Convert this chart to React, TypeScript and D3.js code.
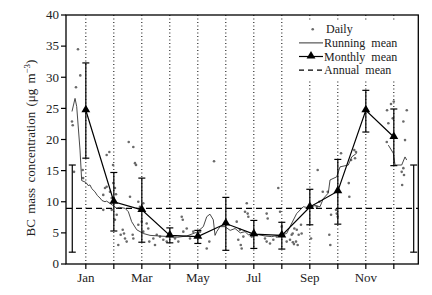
import React from "react";
import * as d3 from "d3";

const width = 432, height = 295
const margin = { left: 66, top: 15, right: 418.3, bottom: 264 }

// x positions are day of year
const monthLabels = ["Jan", "", "Mar", "", "May", "", "Jul", "", "Sep", "", "Nov", ""]
const monthMean = [24.7, 10.0, 8.7, 4.6, 4.4, 6.5, 4.8, 4.6, 9.15, 11.7, 24.7, 20.4]
const monthLow = [17.0, 5.3, 3.5, 3.4, 3.3, 2.2, 2.5, 2.4, 6.3, 6.4, 21.2, 15.8]
const monthHigh = [32.3, 14.7, 13.8, 5.8, 5.4, 10.7, 7.0, 6.7, 12.0, 16.8, 27.9, 24.9]

const annualMean = 8.94
const annualLow = 1.9
const annualHigh = 15.9
const annualBarDays = [0.8, 371]

const dailyDays = [7, 9.5, 4.8, 0.5, 1.3, 2.7, 12.1, 12.5, 38.1, 41, 36.3, 38.1, 41.7, 34.4, 43.6, 45.3, 45, 47.1, 48.2,
  34.4, 43.6, 49, 47.1, 50.7, 53.3, 55.5, 56.9, 58, 59.8, 62, 63.4, 67, 68.8, 69.9, 67, 66.3, 72.4, 74.2, 77.8, 76.1,
  72.4, 81.5, 83.2, 77.8, 84.3, 88.7, 90.5, 92.4, 95.9, 99.5, 103.2, 106.8, 112.2, 115.8, 119.5, 120.6, 121.2, 124.9,
  128.5, 132, 139.3, 146.6, 149.4, 154.5, 179.1, 190, 188.1, 191, 191.7, 182.7, 180.8, 183.5, 184.5, 186.3, 195.4,
  211.6, 212.7, 209.8, 211.6, 215.2, 218.8, 222.5, 224.2, 226.1, 227.9, 233.3, 236.9, 238.7, 241.6, 239.8, 243.4,
  246.3, 245.2, 248.8, 249.5, 259.7, 266.9, 268.7, 272.4, 277.8, 279.5, 280.6, 281.4, 286.8, 287.6, 288.6, 292.2,
  300.6, 301.2, 303.1, 306.6, 308.5, 307.4, 265.9, 244.2, 241.2, 240, 342.1, 346.4, 349.4, 348.3, 343.5, 359.8, 363.5,
  341.8, 361.6, 359.8, 358, 360.5, 358.5]
const dailyValues = [34.5, 30.3, 28.4, 22.9, 22.3, 14.8, 15.1, 13.8, 17.5, 18.0, 12.2, 12.4, 11.6, 11.1, 10.6, 13.0, 15.9, 12.2, 11.2,
  8.7, 8.7, 7.9, 7.1, 3.05, 4.7, 5.5, 4.9, 4.1, 3.6, 19.6, 10.8, 18.8, 16.2, 15.9, 4.1, 4.7, 10.0, 9.2, 9.75, 6.8,
  6.3, 6.5, 5.7, 5.2, 3.6, 4.1, 3.05, 4.7, 4.4, 3.9, 3.6, 4.7, 4.1, 3.6, 7.6, 7.1, 5.2, 5.7,
  4.1, 5.2, 5.2, 2.5, 3.6, 16.5, 6.8, 9.75, 8.4, 8.1, 7.6, 5.5, 3.9, 3.05, 2.5, 4.4, 4.4,
  8.1, 7.3, 4.1, 3.6, 3.3, 3.9, 4.4, 12.2, 8.4, 6.0, 3.6, 3.9, 4.7, 5.7, 4.9, 3.6,
  4.7, 3.05, 6.3, 4.9, 4.1, 15.1, 10.0, 11.6, 11.6, 4.7, 3.05, 7.9, 8.7, 8.1, 7.6, 17.8,
  13.0, 10.8, 16.7, 18.3, 18.0, 17.0, 9.2, 5.5, 3.2, 3.5, 24.7, 25.7, 26.1, 23.4, 22.6, 22.9, 24.7,
  19.6, 19.9, 15.4, 14.8, 14.3, 12.7]

// NaN marks a gap in the running mean
const runDays = [0.5, 3.8, 5.6, 9.2, 11, 15.7, 18, 20, 22, 25.4, 28, 30.9, 33, 36.3, 38, 41.7, 44, 49, 52, 58, 61.6, 65.2, 70.7,
  77.8, 85.1, 95, 106.8, 115, 124.9, 135.7, 142.9, 146.6, 150.1, 153.7, 155.6, 157.4, 161, 166.4, 172, 177.3, 183, 188.1,
  191.7, 197, 202.5, 210, 217, 227.9, 233.3, 236.9, 244.1, 251.3, 258, 264, 269.4, 273, 278.4, 280.3, 287.5, 291.1, 300.1,
  303.8, 309.2, NaN, 343.5, 348.9, 350.8, 358, 361.6, 363.4]
const runValues = [24.5, 26.6, 25.3, 18.3, 13.4, 13.1, 12.6, 12.7, 12.1, 11.6, 11.0, 10.6, 10.2, 10.0, 10.1, 9.75, 9.5, 8.95, 9.1, 8.95, 8.4, 6.8, 5.5,
  4.9, 4.6, 4.5, 4.4, 4.3, 4.5, 5.1, 6.0, 7.6, 8.0, 7.1, 4.6, 5.2, 6.0, 6.0, 5.4, 5.7, 5.0, 5.2,
  4.7, 4.9, 4.7, 4.5, 4.4, 4.7, 4.9, 6.0, 8.1, 9.2, 9.0, 9.4, 9.2, 10.5, 11.4, 13.5, 14.0, 15.6, 15.9,
  17.2, 17.8, NaN, 19.1, 17.8, 15.9, 15.9, 17.2, 16.7]

const yTicks = [0, 5, 10, 15, 20, 25, 30, 35, 40]
const legendLabels = ["Daily", "Running mean", "Monthly mean", "Annual mean"]
const font = "'Liberation Serif', 'Times New Roman', serif"

const App = () => {
  const x = d3.scaleLinear().domain([-6, 376]).range([margin.left, margin.right])
  const y = d3.scaleLinear().domain([0, 40]).range([margin.bottom, margin.top])
  const monthDay = (i: number) => 15.5 + i * 30.36

  const runLine = d3.line<number>()
    .defined(i => !isNaN(runValues[i]))
    .x(i => x(runDays[i]))
    .y(i => y(runValues[i]))

  const meanLine = d3.line<number>()
    .x(i => x(monthDay(i)))
    .y(i => y(monthMean[i]))

  const tri = d3.symbol().type(d3.symbolTriangle).size(34)

  const errorBar = (cx: number, lo: number, hi: number, key: string) => (
    <g key={key} stroke="#000" strokeWidth={1.2}>
      <line x1={cx} x2={cx} y1={y(lo)} y2={y(hi)} />
      <line x1={cx - 3.5} x2={cx + 3.5} y1={y(lo)} y2={y(lo)} />
      <line x1={cx - 3.5} x2={cx + 3.5} y1={y(hi)} y2={y(hi)} />
    </g>
  )

  // legend rows
  const ly = (i: number) => 29.3 + i * 13.6

  return <div style={{ position: "absolute", left: 0, top: 0 }}>
    <svg width={width} height={height} style={{ display: "block", background: "#fff" }}>
      {/* month guides */}
      {monthMean.map((_, i) => (
        <line key={"g" + i} x1={x(monthDay(i))} x2={x(monthDay(i))} y1={margin.top} y2={margin.bottom}
          stroke="#000" strokeWidth={1} strokeDasharray="1,2.5" />
      ))}

      {/* legend background hides the guides */}
      <rect x={296} y={21} width={110} height={59} fill="#fff" />

      {/* daily */}
      {dailyDays.map((d, i) => (
        <circle key={"d" + i} cx={x(d)} cy={y(dailyValues[i])} r={1.3} fill="#6a6a6a" />
      ))}

      {/* annual mean */}
      <line x1={margin.left} x2={margin.right} y1={y(annualMean)} y2={y(annualMean)}
        stroke="#000" strokeWidth={1.2} strokeDasharray="6,4" />
      {annualBarDays.map((d, i) => errorBar(x(d), annualLow, annualHigh, "a" + i))}

      {/* running mean */}
      <path d={runLine(d3.range(runDays.length)) || ""} fill="none" stroke="#333" strokeWidth={0.9} />

      {/* monthly mean */}
      {monthMean.map((_, i) => errorBar(x(monthDay(i)), monthLow[i], monthHigh[i], "m" + i))}
      <path d={meanLine(d3.range(monthMean.length)) || ""} fill="none" stroke="#000" strokeWidth={1.2} />
      {monthMean.map((v, i) => (
        <path key={"t" + i} d={tri() || ""} transform={`translate(${x(monthDay(i))},${y(v) - 0.5})`} fill="#000" />
      ))}

      {/* frame */}
      <rect x={margin.left} y={margin.top} width={margin.right - margin.left} height={margin.bottom - margin.top}
        fill="none" stroke="#000" strokeWidth={1.3} />

      {/* y axis */}
      {yTicks.map(t => (
        <g key={"y" + t}>
          <line x1={margin.left - 5} x2={margin.left} y1={y(t)} y2={y(t)} stroke="#000" strokeWidth={1.2} />
          <text x={margin.left - 7} y={y(t) + 4.3} textAnchor="end" fontFamily={font} fontSize={13} fill="#222">{t}</text>
        </g>
      ))}
      <text transform={`translate(35,${148}) rotate(-90)`} textAnchor="middle"
        fontFamily={font} fontSize={13} fill="#222" wordSpacing={2}>
        BC mass concentration (μg m<tspan dy={-5} fontSize={9}>−3</tspan><tspan dy={5}>)</tspan>
      </text>

      {/* x axis */}
      {monthLabels.map((m, i) => (
        <g key={"x" + i}>
          <line x1={x(monthDay(i))} x2={x(monthDay(i))} y1={margin.bottom} y2={margin.bottom + 5} stroke="#000" strokeWidth={1.2} />
          {m && <text x={x(monthDay(i))} y={282} textAnchor="middle" fontFamily={font} fontSize={13} fill="#222">{m}</text>}
        </g>
      ))}

      {/* legend */}
      <g fontFamily={font} fontSize={12} fill="#222" wordSpacing={3}>
        <circle cx={312.7} cy={ly(0)} r={1.3} fill="#6a6a6a" />
        <line x1={299} x2={323} y1={ly(1)} y2={ly(1)} stroke="#333" strokeWidth={1} />
        <line x1={299} x2={323} y1={ly(2)} y2={ly(2)} stroke="#000" strokeWidth={1.2} />
        <path d={tri() || ""} transform={`translate(311,${ly(2) - 0.5})`} fill="#000" />
        <line x1={299} x2={323} y1={ly(3)} y2={ly(3)} stroke="#000" strokeWidth={1.2} strokeDasharray="5,4" />
        {legendLabels.map((l, i) => (
          <text key={l} x={i === 0 ? 326 : 324} y={ly(i) + 4}>{l}</text>
        ))}
      </g>
    </svg>
  </div>
}

export default App
